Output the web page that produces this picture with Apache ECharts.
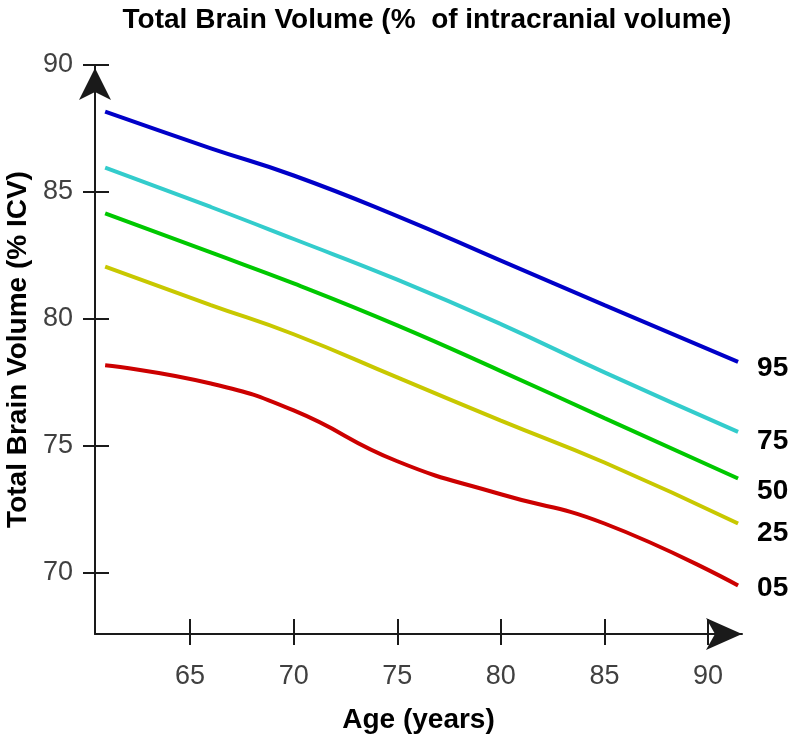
<!DOCTYPE html>
<html>
<head>
<meta charset="utf-8">
<script src="https://cdn.jsdelivr.net/npm/echarts@6/dist/echarts.min.js"></script>
<style>
html,body{margin:0;padding:0;background:#fff;}
#chart{width:792px;height:741px;}
</style>
</head>
<body>
<div id="chart"></div>
<script>
// ---- data ----
const ages = [60.9, 66, 70, 75, 80, 85, 91.45];
const p95 = [88.16, 86.72, 85.65, 84.05, 82.3, 80.55, 78.31];
const p75 = [85.96, 84.41, 83.15, 81.55, 79.8, 77.9, 75.56];
const p50 = [84.16, 82.62, 81.4, 79.75, 77.95, 76.1, 73.72];
const p25 = [82.06, 80.55, 79.4, 77.7, 76.0, 74.35, 71.95];
const p05 = [78.18, 77.46, 76.4, 74.4, 73.1, 71.95, 69.51];
const seriesLabels = ['95', '75', '50', '25', '05'];
const xTicks = [65, 70, 75, 80, 85, 90];
const yTicks = [70, 75, 80, 85, 90];

const FONT = "'Liberation Sans', Arial, sans-serif";
const colors = ['#0000c8', '#33cccc', '#00c800', '#c8c800', '#cc0000'];
const labelDy = [6, 9, 13, 10, 3];
const allSeries = [p95, p75, p50, p25, p05];

const chart = echarts.init(document.getElementById('chart'), null, {renderer: 'canvas'});

const axisColor = '#1a1a1a';
const option = {
  animation: false,
  backgroundColor: '#fff',
  title: {
    text: 'Total Brain Volume (%  of intracranial volume)',
    left: 422, top: 1, textAlign: 'center',
    textStyle: {fontFamily: FONT, fontSize: 28, fontWeight: 'bold', color: '#000'}
  },
  grid: {left: 95, right: 50, top: 65, bottom: 107, containLabel: false, outerBoundsMode: 'none'},
  xAxis: [{
    type: 'value', min: 60.41, max: 91.64, position: 'bottom',
    name: 'Age (years)', nameLocation: 'middle', nameGap: 72,
    nameTextStyle: {fontFamily: FONT, fontSize: 28, fontWeight: 'bold', color: '#000'},
    axisLine: {show: true, lineStyle: {color: axisColor, width: 2}, symbol: ['none', 'arrow'], symbolSize: [24, 36]},
    axisTick: {show: true, length: 11, lineStyle: {color: axisColor, width: 2}, customValues: xTicks},
    axisLabel: {show: true, margin: 29, fontFamily: FONT, fontSize: 27, color: '#404040', customValues: xTicks},
    splitLine: {show: false}
  }, {
    type: 'value', min: 60.41, max: 91.64, position: 'bottom',
    axisLine: {show: false},
    axisTick: {show: true, inside: true, length: 15, lineStyle: {color: axisColor, width: 2}, customValues: xTicks},
    axisLabel: {show: false},
    splitLine: {show: false}
  }],
  yAxis: [{
    type: 'value', min: 67.6, max: 90, position: 'left',
    name: 'Total Brain Volume (% ICV)', nameLocation: 'middle', nameGap: 63, nameRotate: 90,
    nameTextStyle: {fontFamily: FONT, fontSize: 28, fontWeight: 'bold', color: '#000'},
    axisLine: {show: true, lineStyle: {color: axisColor, width: 2}, symbol: ['none', 'arrow'], symbolSize: [24, 32], symbolOffset: [0, -3]},
    axisTick: {show: true, length: 12, lineStyle: {color: axisColor, width: 2}, customValues: yTicks},
    axisLabel: {show: true, margin: 22, fontFamily: FONT, fontSize: 27, color: '#404040', customValues: yTicks},
    splitLine: {show: false}
  }, {
    type: 'value', min: 67.6, max: 90, position: 'left',
    axisLine: {show: false},
    axisTick: {show: true, inside: true, length: 14, lineStyle: {color: axisColor, width: 2}, customValues: yTicks},
    axisLabel: {show: false},
    splitLine: {show: false}
  }],
  series: allSeries.map((vals, i) => ({
    type: 'line',
    xAxisIndex: 0, yAxisIndex: 0,
    data: ages.map((a, j) => [a, vals[j]]),
    smooth: 0.5,
    showSymbol: false,
    symbol: 'none',
    lineStyle: {color: colors[i], width: 4},
    endLabel: {
      show: true,
      formatter: seriesLabels[i],
      distance: 19,
      offset: [0, labelDy[i]],
      fontFamily: FONT, fontSize: 28, fontWeight: 'bold', color: '#000'
    }
  }))
};
chart.setOption(option);
</script>
</body>
</html>
